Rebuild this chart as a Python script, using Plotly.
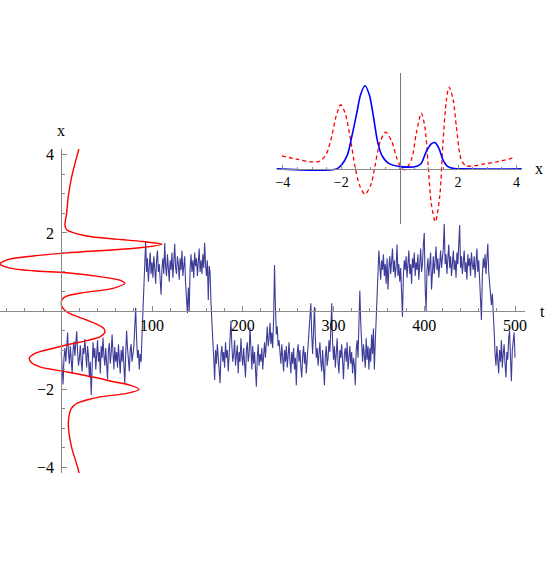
import plotly.graph_objects as go

# ---------------- data ----------------
# trajectory x(t), sampled at t = 0, 1, 2, ... 500
x_traj = [
    -1.05, -1.42, -1.88, -1.2, -0.95, -1.3, -0.82, -0.55, -1.1, -1.35, -0.9, -1.25, -1.6, -1.0, -0.78, -1.15, -0.7, -0.52, -1.05, -1.4,
    -1.2, -0.88, -1.3, -1.55, -0.95, -1.1, -0.72, -1.25, -1.45, -0.9, -1.15, -1.7, -1.3, -2.15, -1.05, -0.8, -1.2, -0.95, -1.5, -1.1,
    -0.75, -1.3, -1.05, -1.6, -0.9, -1.2, -0.68, -1.15, -1.4, -0.95, -1.25, -1.75, -1.0, -0.82, -1.35, -1.1, -0.6, -1.2, -1.5, -0.92,
    -1.3, -1.05, -1.45, -0.85, -1.2, -1.6, -1.0, -1.3, -0.9, -1.4, -1.86, -1.1, -0.5, -0.95, -1.25, -1.55, -1.0, -0.85, -1.3, -1.1,
    -0.9, -0.4, 0.08, -0.7, -1.2, -1.0, -1.5, -1.1, -1.3, -0.6, 0.1, 0.8, 1.3, 1.78, 1.0, 1.35, 0.75, 1.2, 1.5, 0.95,
    1.25, 0.85, 1.4, 1.1, 0.7, 1.3, 1.55, 1.0, 1.2, 0.8, 0.42, 1.1, 1.35, 0.95, 1.74, 1.15, 0.9, 1.45, 1.2, 0.75,
    1.3, 1.05, 1.5, 0.85, 1.25, 1.72, 1.1, 0.95, 1.4, 1.2, 0.8, 1.35, 1.05, 1.55, 0.9, 1.2, 1.4, 0.7, 0.3, -0.05,
    0.6, -0.02, 1.1, 1.45, 1.0, 1.3, 0.85, 1.5, 1.15, 1.35, 0.9, 1.25, 1.6, 1.0, 1.3, 0.95, 1.45, 1.1, 1.75, 1.2,
    0.9, 1.3, 0.28, 1.15, 1.0, 0.2, -0.6, -0.74, -1.2, -1.77, -1.0, -1.35, -0.85, -1.2, -1.5, -1.85, -1.1, -0.9, -1.3, -1.05,
    -1.45, -0.8, -1.2, -1.0, -1.55, -0.95, -0.6, -0.25, -0.9, -1.3, -1.1, -0.75, -1.4, -1.2, -0.88, -1.6, -1.05, -1.3, -0.7, -1.15,
    -1.4, -0.95, -1.25, -1.7, -1.0, -0.8, -1.3, -1.1, -0.42, -1.2, -1.5, -0.9, -1.35, -1.05, -1.6, -1.94, -1.2, -0.85, -1.4, -1.1,
    -1.3, -0.95, -1.5, -1.1, -0.8, -1.2, -0.6, -0.4, -0.9, -0.7, -0.3, -0.85, -0.55, -0.95, -0.2, 1.18, 0.1, -0.6, -0.4, -0.9,
    -0.75, -1.1, -1.35, -0.85, -1.2, -1.55, -1.0, -1.3, -0.9, -1.45, -1.15, -0.8, -1.25, -1.6, -1.05, -1.35, -0.95, -1.5, -1.2, -1.9,
    -1.1, -0.85, -1.3, -1.0, -1.45, -1.7, -1.15, -0.9, -1.35, -1.05, -1.6, -1.2, -0.8, -0.5, -0.3, 0.2, -0.6, -1.1, -0.5, 0.1,
    -0.7, -1.2, -0.95, -1.4, -1.1, -0.8, -1.3, -1.55, -1.0, -1.35, -1.9, -1.15, -0.9, -1.4, -1.2, -0.75, -1.05, -0.5, 0.2, -0.8,
    -1.25, -0.9, -1.45, -1.1, -0.7, -1.3, -1.6, -1.0, -1.2, -0.85, -1.4, -1.75, -1.1, -0.95, -1.3, -0.8, -1.5, -1.15, -0.9, -1.35,
    -1.05, -1.6, -1.2, -1.4, -1.9, -1.0, -0.75, -1.2, -0.4, 0.52, -0.3, -0.9, -1.3, -0.85, -1.1, -1.45, -0.7, -1.25, -0.9, -1.5,
    -0.95, -1.3, -0.6, -1.1, -0.45, -1.5, -0.8, -0.15, 0.3, 0.9, 1.55, 1.15, 0.8, 1.3, 1.05, 1.45, 0.9, 1.2, 0.7, 1.35,
    0.55, 1.1, 1.4, 0.95, 1.25, 1.6, 1.0, 1.3, 0.85, 1.15, 1.7, 0.9, 1.2, 0.75, 1.1, 0.4, -0.15, 0.9, 1.3, 1.05,
    1.4, 0.85, 1.25, 1.55, 0.95, 1.2, 0.7, 1.35, 1.1, 1.5, 0.9, 1.25, 1.05, 1.45, 0.8, 1.3, 1.6, 1.0, 1.2, 1.7,
    2.0, 0.6, 0.0, 1.05, 1.35, 0.9, 1.25, 1.5, 0.55, 1.1, 1.4, 0.95, 1.3, 1.65, 1.05, 1.35, 0.85, 1.2, 1.55, 1.1,
    1.3, 1.6, 2.25, 1.2, 1.45, 0.95, 1.35, 1.7, 1.1, 1.4, 0.9, 1.25, 1.55, 1.05, 1.3, 0.85, 1.5, 1.2, 1.6, 2.2,
    1.1, 1.4, 0.95, 1.3, 1.55, 1.0, 1.25, 0.8, 1.45, 1.15, 1.35, 0.9, 1.5, 1.2, 1.05, 1.4, 0.85, 1.25, 1.6, 1.0,
    1.3, 0.8, 0.3, -0.23, 0.9, 1.35, 1.1, 1.45, 0.95, 1.3, 1.72, 1.0, 0.75, 0.5, 0.15, 0.45, 0.05, -0.5, -1.1, -1.4,
    -0.9, -1.25, -1.6, -1.0, -1.3, -0.75, -1.45, -1.1, -0.85, -1.35, -1.7, -1.05, -1.25, -0.7, -0.5, -1.2, -1.8, -1.0, -0.65, -0.55, -1.2,
]
t_vals = list(range(len(x_traj)))

# red function drawn sideways in the main plot (value in t units vs x)
red_x = [-4.2, -4.0, -3.5, -3.0, -2.75, -2.5, -2.37, -2.28, -2.2, -2.11, -2.01, -1.9, -1.8, -1.73, -1.56,
         -1.43, -1.32, -1.21, -1.1, -1.04, -0.87, -0.66, -0.55, -0.45, -0.35, -0.23, -0.05, 0.1, 0.2, 0.3,
         0.38, 0.47, 0.58, 0.71, 0.78, 0.88, 0.98, 1.03, 1.1, 1.2, 1.31, 1.41, 1.49, 1.62, 1.71, 1.78,
         1.84, 1.92, 2.08, 2.2, 2.5, 2.93, 3.44, 4.2]
red_f = [20, 18, 11.5, 8.0, 8.2, 11, 17, 28, 42.6, 72, 85.6, 75.7, 55, 42.6, 6,
         -23.5, -33, -35.2, -30, -23.5, 6, 42.6, 48, 47, 40, 28, 8, 1, 0, 1,
         6, 24, 57, 70, 66, 42.6, 6, -31, -56.5, -67.5, -60, -31, 6, 86.7, 111, 90,
         61, 28, 6, 4, 5.9, 7.7, 11.5, 20]

# inset: red dashed function
inset_red_x = [-4.04, -3.53, -3.01, -2.73, -2.5, -2.33, -2.18, -2.02, -1.87, -1.70, -1.53, -1.38, -1.19,
               -0.99, -0.85, -0.67, -0.48, -0.27, -0.1, 0.03, 0.17, 0.4, 0.57, 0.74, 0.86, 0.97, 1.08,
               1.22, 1.37, 1.48, 1.6, 1.69, 1.83, 1.94, 2.11, 2.28, 2.91, 3.37, 3.95]
inset_red_y = [13, 9.7, 7, 7.7, 15.7, 32.3, 52.3, 64, 55.7, 32.3, 2.3, -16, -25.3,
               -16, 2.3, 27.3, 36.7, 27.3, 10.7, 2.3, -1, 9, 35.7, 55.7, 42.3, 5.7, -34.3,
               -52.7, -27.7, 25.7, 69, 81.7, 69, 42.3, 9, 3, 5, 7.3, 11.5]

# inset: probability density (blue)
dens_x = [-4.22, -2.16, -1.99, -1.79, -1.64, -1.47, -1.34, -1.19, -1.04, -0.9, -0.77, -0.62, -0.39,
          0.0, 0.55, 0.74, 0.91, 1.08, 1.2, 1.34, 1.48, 1.65, 1.88, 2.1, 4.18]
dens_p = [0, 0, 4, 14, 32.3, 55.7, 74, 83, 74, 52.3, 29, 14, 5.7,
          2.3, 2.3, 5.7, 17.3, 25, 26.3, 20.7, 9, 2.3, 0.3, 0, 0]

t_ticks = [100, 200, 300, 400, 500]
x_ticks = [-4, -2, 2, 4]
inset_ticks = [-4, -2, 2, 4]

# ---------------- figure ----------------
FONT = "Liberation Serif, Times New Roman, DejaVu Serif, serif"
AX = "#8a8a8a"
fig = go.Figure()

fig.add_trace(go.Scatter(x=t_vals, y=x_traj, mode="lines",
                         line=dict(color="#3d3d99", width=1.1), xaxis="x", yaxis="y"))
fig.add_trace(go.Scatter(x=red_f, y=red_x, mode="lines",
                         line=dict(color="#ff0000", width=1.4, shape="spline", smoothing=0.8),
                         xaxis="x", yaxis="y"))

fig.add_trace(go.Scatter(x=inset_red_x, y=inset_red_y, mode="lines",
                         line=dict(color="#ff0000", width=1.3, dash="4px,3px", shape="spline", smoothing=0.8),
                         xaxis="x2", yaxis="y2"))
fig.add_trace(go.Scatter(x=dens_x, y=dens_p, mode="lines",
                         line=dict(color="#0000ff", width=1.6, shape="spline", smoothing=0.8),
                         xaxis="x2", yaxis="y2"))

tickfont = dict(family=FONT, size=16, color="black")
inset_font = dict(family=FONT, size=14, color="black")

x0_in, x1_in = 276.5, 521.8        # inset axis pixel extent
scale_in = 29.2
fig.update_layout(
    width=545, height=572,
    font=dict(family=FONT, color="black"),
    margin=dict(l=0, r=20, t=73, b=99),
    paper_bgcolor="white", plot_bgcolor="white",
    showlegend=False,
    xaxis=dict(domain=[0, 1], range=[-67.5, 511], anchor="free", position=0.405,
               showline=True, linecolor=AX, linewidth=1, showgrid=False, zeroline=False,
               tickmode="array", tickvals=t_ticks, ticks="inside", ticklen=5, tickcolor=AX,
               tickfont=tickfont,
               minor=dict(dtick=20, tick0=0, ticks="inside", ticklen=3, tickcolor=AX, showgrid=False)),
    yaxis=dict(domain=[0, 0.81], range=[-4.15, 4.15], anchor="free", position=67.5 / 578.5,
               showline=True, linecolor=AX, linewidth=1, showgrid=False, zeroline=False,
               tickmode="array", tickvals=x_ticks, ticks="inside", ticklen=5, tickcolor=AX,
               tickfont=tickfont, ticklabelstandoff=4,
               minor=dict(dtick=0.5, tick0=0, ticks="inside", ticklen=3, tickcolor=AX, showgrid=False)),
    xaxis2=dict(domain=[x0_in / 525, x1_in / 525],
                range=[-(399.7 - x0_in) / scale_in, (x1_in - 399.7) / scale_in],
                anchor="free", position=0.76,
                showline=True, linecolor=AX, linewidth=1, showgrid=False, zeroline=False,
                tickmode="array", tickvals=inset_ticks, ticks="inside", ticklen=4, tickcolor=AX,
                tickfont=inset_font,
                minor=dict(dtick=0.5, tick0=0, ticks="inside", ticklen=2, tickcolor=AX, showgrid=False)),
    yaxis2=dict(domain=[0.6225, 1.0], range=[-55, 95.7], anchor="free", position=399.7 / 525,
                showline=True, linecolor="#777777", linewidth=1, showgrid=False, zeroline=False,
                showticklabels=False, ticks=""),
    annotations=[
        dict(text="x", x=61 / 525, y=(473 - 130) / 400, xref="paper", yref="paper",
             showarrow=False, xanchor="center", yanchor="middle", font=tickfont),
        dict(text="t", x=542 / 525, y=0.405, xref="paper", yref="paper",
             showarrow=False, xanchor="center", yanchor="middle", font=tickfont),
        dict(text="x", x=539 / 525, y=(473 - 168) / 400, xref="paper", yref="paper",
             showarrow=False, xanchor="center", yanchor="middle", font=tickfont),
    ],
)

fig.write_html("out.html",
               config={"displayModeBar": False},
               post_script="document.body.style.margin='0';document.body.style.overflow='hidden';")
